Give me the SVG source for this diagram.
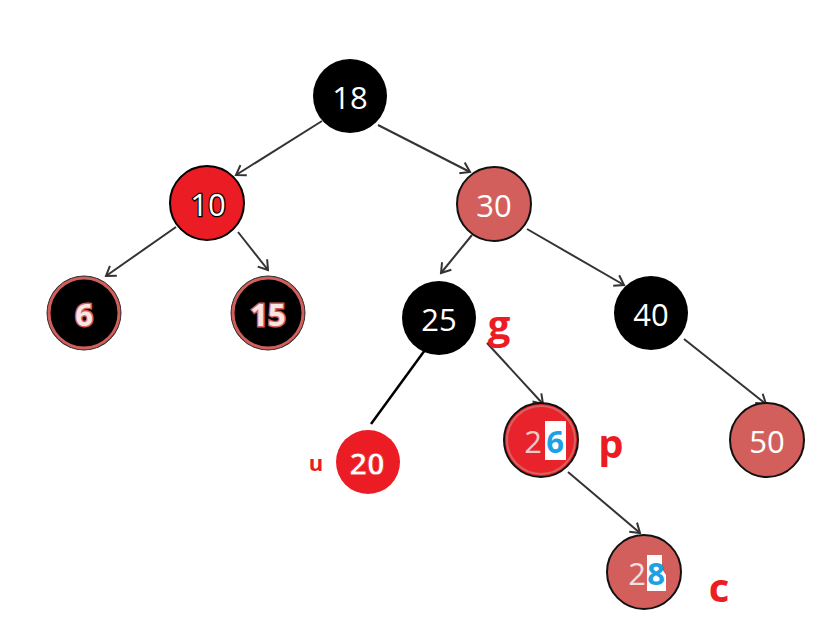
<svg xmlns="http://www.w3.org/2000/svg" width="840" height="643" viewBox="0 0 840 643">
<defs>
<marker id="arr" markerWidth="14" markerHeight="14" refX="11" refY="7" orient="auto" markerUnits="userSpaceOnUse">
<path d="M2,1 L11,7 L2,13" fill="none" stroke="#333" stroke-width="2"/>
</marker>
<style>
.t{font-family:"Open Sans","Noto Sans","Liberation Sans",sans-serif;font-size:31px;text-anchor:middle;dominant-baseline:central}
.blk{fill:#000}
.w{fill:#fff}
.pink{fill:#d35f5d;stroke:#111;stroke-width:2}
.lbl{font-family:"Open Sans","Noto Sans","Liberation Sans",sans-serif;font-weight:bold;fill:#ec1c24;text-anchor:middle;dominant-baseline:central}
.e{stroke:#333;stroke-width:2;fill:none;marker-end:url(#arr)}
</style>
</defs>
<rect width="840" height="643" fill="#fff"/>
<g id="connectors">
<line class="e" x1="322" y1="121" x2="236" y2="175"/>
<line class="e" x1="378" y1="125" x2="470" y2="172"/>
<line class="e" x1="176" y1="227" x2="106" y2="276"/>
<line class="e" x1="238" y1="232" x2="268" y2="270"/>
<line class="e" x1="472" y1="235" x2="441" y2="273"/>
<line class="e" x1="527" y1="229" x2="624" y2="285"/>
<line x1="425" y1="350" x2="371" y2="424" stroke="#000" stroke-width="2.5"/>
<line class="e" x1="487" y1="343" x2="543" y2="404"/>
<line class="e" x1="568" y1="472" x2="640" y2="533"/>
<line class="e" x1="684" y1="339" x2="766" y2="404"/>
</g>
<g id="n18"><circle cx="350" cy="96" r="37" class="blk"/><text x="350" y="97" class="t w">18</text></g>
<g id="n10"><circle cx="207" cy="203" r="37" fill="#ec1c24" stroke="#000" stroke-width="2"/><text x="208" y="204" class="t" fill="#fff" stroke="#000" stroke-width="2.5" paint-order="stroke">10</text></g>
<g id="n30"><circle cx="494" cy="204" r="37" class="pink"/><text x="494" y="205" class="t w">30</text></g>
<g id="n6"><circle cx="84" cy="313" r="37" fill="#000" stroke="#333" stroke-width="1"/><circle cx="84" cy="313" r="35" fill="none" stroke="#d35f5d" stroke-width="3"/><text x="84" y="314" class="t" fill="#fbe4e4" stroke="#d35f5d" stroke-width="3" paint-order="stroke" font-weight="bold">6</text></g>
<g id="n15"><circle cx="268" cy="313" r="37" fill="#000" stroke="#333" stroke-width="1"/><circle cx="268" cy="313" r="35" fill="none" stroke="#d35f5d" stroke-width="3"/><text x="268" y="314" class="t" fill="#fbe4e4" stroke="#d35f5d" stroke-width="3" paint-order="stroke" font-weight="bold">15</text></g>
<g id="n25"><circle cx="439" cy="318" r="37" class="blk"/><text x="439" y="319" class="t w">25</text></g>
<g id="n40"><circle cx="651" cy="313" r="37" class="blk"/><text x="651" y="314" class="t w">40</text></g>
<g id="n20"><circle cx="368" cy="462" r="32" fill="#ec1c24"/><text x="367" y="463" class="t" font-size="18" font-weight="bold" fill="#fff" stroke="#ec1c24" stroke-width="0.8">20</text></g>
<g id="n26"><circle cx="541" cy="440" r="37" fill="#e8232b" stroke="#111" stroke-width="2"/><circle cx="541" cy="440" r="34" fill="none" stroke="#d86060" stroke-width="2"/><rect x="545" y="421" width="21" height="39" fill="#fff"/><text x="533" y="441" class="t" fill="#f0c8c8">2</text><text x="555" y="441" class="t" fill="#1ea0e6" font-weight="bold">6</text></g>
<g id="n50"><circle cx="767" cy="440" r="37" class="pink"/><text x="767" y="441" class="t w">50</text></g>
<g id="n28"><circle cx="644" cy="572" r="37" class="pink"/><path d="M647,555 h15 v14 l4,6 v16 h-19 z" fill="#fff"/><text x="637" y="573" class="t" fill="#f6dede">2</text><text x="656" y="573" class="t" fill="#1ea0e6" font-weight="bold">8</text></g>
<g id="labels">
<text x="499" y="323" class="lbl" font-size="40">g</text>
<text x="611" y="442" class="lbl" font-size="40">p</text>
<text x="719" y="586" class="lbl" font-size="40">c</text>
<text x="316" y="462" class="lbl" font-size="22">u</text>
</g>
</svg>
